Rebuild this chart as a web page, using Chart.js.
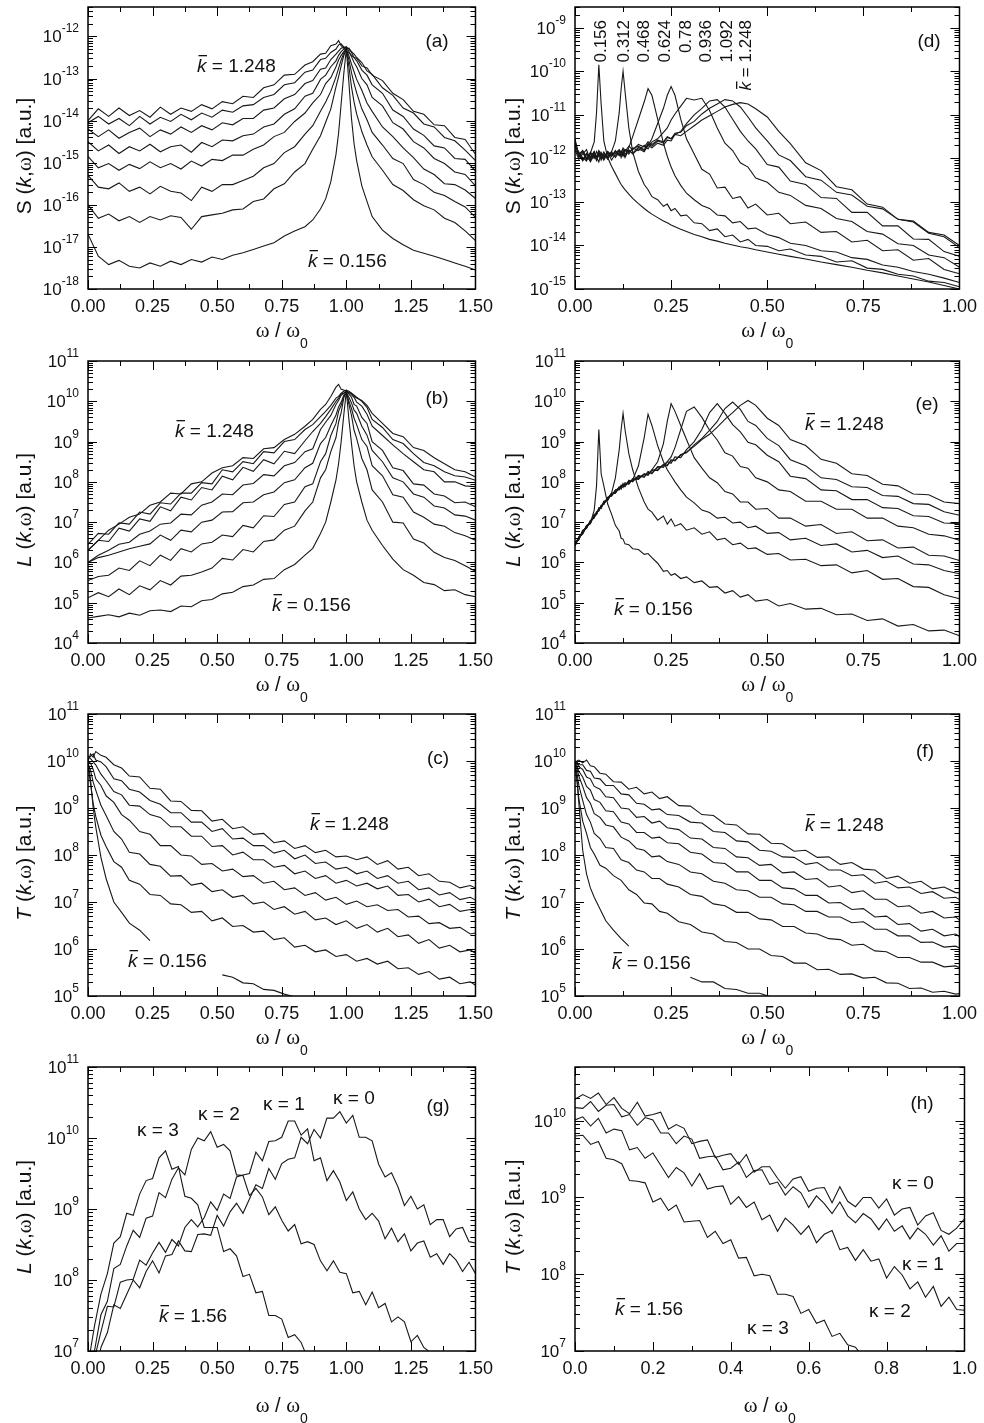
<!DOCTYPE html>
<html>
<head>
<meta charset="utf-8">
<script src="https://cdn.jsdelivr.net/npm/chart.js@4.4.0/dist/chart.umd.min.js"></script>
<style>
  body { margin: 0; background: #fff; }
  #page { position: relative; width: 984px; height: 1423px; background: #fff; overflow: hidden; }
  #page canvas { position: absolute; }
</style>
</head>
<body>
<div id="page"></div>
<script>
// k values (curve labels) and screening parameters
const kBars = ['0.156', '0.312', '0.468', '0.624', '0.78', '0.936', '1.092', '1.248'];
const kappas = ['0', '1', '2', '3'];

// ω/ω0 grids, one per panel group
const xAB = [0,0.04,0.08,0.12,0.16,0.2,0.24,0.28,0.32,0.36,0.4,0.44,0.48,0.52,0.56,0.6,0.64,0.68,0.72,0.76,0.8,0.84,0.87,0.9,0.92,0.94,0.96,0.97,0.98,0.99,1.0,1.01,1.02,1.03,1.04,1.06,1.08,1.1,1.14,1.18,1.22,1.26,1.3,1.34,1.38,1.42,1.46,1.5];
const xC = [0,0.01,0.02,0.03,0.05,0.07,0.1,0.13,0.16,0.2,0.24,0.28,0.32,0.36,0.4,0.44,0.48,0.52,0.56,0.6,0.64,0.68,0.72,0.76,0.8,0.84,0.88,0.92,0.96,1.0,1.04,1.08,1.12,1.16,1.2,1.24,1.28,1.32,1.36,1.4,1.44,1.48,1.5];
const xD = [0,0.01,0.02,0.03,0.04,0.05,0.056,0.062,0.068,0.075,0.085,0.095,0.105,0.115,0.12,0.125,0.13,0.14,0.15,0.165,0.18,0.19,0.2,0.215,0.23,0.24,0.25,0.26,0.275,0.29,0.31,0.33,0.35,0.37,0.39,0.41,0.43,0.45,0.47,0.5,0.53,0.56,0.6,0.64,0.68,0.72,0.76,0.8,0.84,0.88,0.92,0.96,1.0];
const xF = [0,0.005,0.01,0.02,0.03,0.04,0.05,0.065,0.08,0.1,0.12,0.14,0.16,0.18,0.2,0.22,0.24,0.27,0.3,0.33,0.36,0.39,0.42,0.45,0.48,0.51,0.54,0.57,0.6,0.63,0.66,0.69,0.72,0.75,0.78,0.81,0.84,0.87,0.9,0.93,0.96,0.99,1.0];
const xG = [0,0.025,0.05,0.075,0.1,0.125,0.15,0.175,0.2,0.225,0.25,0.275,0.3,0.325,0.35,0.375,0.4,0.425,0.45,0.475,0.5,0.525,0.55,0.575,0.6,0.625,0.65,0.675,0.7,0.725,0.75,0.775,0.8,0.825,0.85,0.875,0.9,0.925,0.95,0.975,1.0,1.025,1.05,1.075,1.1,1.125,1.15,1.175,1.2,1.225,1.25,1.275,1.3,1.325,1.35,1.375,1.4,1.425,1.45,1.475,1.5];
const xH = [0,0.02,0.04,0.06,0.08,0.1,0.12,0.14,0.16,0.18,0.2,0.22,0.24,0.26,0.28,0.3,0.32,0.34,0.36,0.38,0.4,0.42,0.44,0.46,0.48,0.5,0.52,0.54,0.56,0.58,0.6,0.62,0.64,0.66,0.68,0.7,0.72,0.74,0.76,0.78,0.8,0.82,0.84,0.86,0.88,0.9,0.92,0.94,0.96,0.98,1.0];

// (a) log10 S(k,ω), k = 1.248 ... 0.156
const sA1 = [-14.0,-13.72,-13.9,-13.7,-13.88,-13.76,-13.92,-13.68,-13.85,-13.7,-13.78,-13.62,-13.72,-13.55,-13.6,-13.42,-13.45,-13.22,-13.15,-12.92,-12.9,-12.68,-12.6,-12.42,-12.4,-12.22,-12.18,-12.1,-12.22,-12.28,-12.35,-12.38,-12.45,-12.5,-12.52,-12.7,-12.75,-12.92,-13.05,-13.35,-13.5,-13.78,-13.85,-14.1,-14.12,-14.4,-14.45,-14.8];
const sA2 = [-14.05,-13.9,-14.08,-13.95,-14.12,-13.9,-14.08,-13.92,-14.02,-13.85,-13.98,-13.82,-13.92,-13.75,-13.8,-13.65,-13.62,-13.45,-13.38,-13.15,-13.1,-12.85,-12.8,-12.55,-12.52,-12.38,-12.3,-12.2,-12.18,-12.25,-12.3,-12.28,-12.36,-12.42,-12.5,-12.62,-12.82,-12.9,-13.22,-13.4,-13.7,-13.82,-14.08,-14.15,-14.4,-14.48,-14.7,-14.95];
const sA3 = [-14.2,-14.38,-14.22,-14.42,-14.28,-14.18,-14.38,-14.22,-14.32,-14.15,-14.28,-14.12,-14.22,-14.05,-14.1,-13.95,-13.95,-13.75,-13.7,-13.48,-13.38,-13.12,-13.05,-12.78,-12.75,-12.55,-12.42,-12.35,-12.28,-12.26,-12.25,-12.3,-12.38,-12.5,-12.58,-12.8,-12.92,-13.15,-13.35,-13.75,-13.9,-14.2,-14.35,-14.6,-14.65,-14.9,-14.92,-15.2];
const sA4 = [-14.5,-14.72,-14.58,-14.78,-14.62,-14.72,-14.56,-14.74,-14.62,-14.58,-14.75,-14.52,-14.62,-14.46,-14.48,-14.36,-14.32,-14.15,-14.08,-13.85,-13.72,-13.42,-13.35,-13.02,-12.92,-12.72,-12.58,-12.45,-12.36,-12.3,-12.25,-12.36,-12.48,-12.62,-12.72,-13.0,-13.15,-13.45,-13.65,-14.05,-14.2,-14.5,-14.65,-14.9,-15.02,-15.22,-15.28,-15.55];
const sA5 = [-14.85,-15.12,-15.02,-15.18,-15.04,-15.14,-14.98,-15.12,-15.02,-15.15,-14.96,-15.08,-14.92,-14.95,-14.82,-14.82,-14.68,-14.58,-14.38,-14.28,-14.02,-13.82,-13.58,-13.38,-13.12,-12.98,-12.72,-12.56,-12.45,-12.36,-12.3,-12.46,-12.66,-12.84,-13.02,-13.28,-13.58,-13.78,-14.15,-14.38,-14.65,-14.88,-15.15,-15.28,-15.5,-15.52,-15.65,-15.85];
const sA6 = [-15.3,-15.58,-15.62,-15.48,-15.68,-15.58,-15.74,-15.56,-15.68,-15.72,-15.9,-15.58,-15.68,-15.52,-15.52,-15.42,-15.32,-15.12,-15.02,-14.76,-14.62,-14.32,-14.12,-13.78,-13.56,-13.3,-12.96,-12.76,-12.56,-12.4,-12.3,-12.56,-12.86,-13.12,-13.34,-13.72,-13.98,-14.28,-14.58,-14.9,-15.02,-15.4,-15.52,-15.7,-15.78,-15.92,-16.05,-16.3];
const sA7 = [-16.0,-16.32,-16.22,-16.38,-16.28,-16.42,-16.28,-16.36,-16.26,-16.3,-16.58,-16.28,-16.24,-16.2,-16.12,-16.1,-15.92,-15.86,-15.62,-15.5,-15.22,-15.02,-14.68,-14.36,-14.04,-13.72,-13.2,-12.96,-12.7,-12.46,-12.3,-12.72,-13.2,-13.56,-13.84,-14.26,-14.58,-14.86,-15.18,-15.52,-15.66,-15.88,-16.02,-16.12,-16.32,-16.42,-16.62,-16.85];
const sA8 = [-16.7,-17.22,-17.42,-17.32,-17.46,-17.5,-17.38,-17.46,-17.34,-17.42,-17.3,-17.36,-17.24,-17.3,-17.2,-17.14,-17.06,-16.98,-16.9,-16.74,-16.62,-16.52,-16.36,-16.1,-15.86,-15.45,-14.8,-14.3,-13.6,-12.9,-12.3,-13.1,-13.95,-14.55,-14.95,-15.55,-15.92,-16.28,-16.6,-16.8,-16.95,-17.08,-17.15,-17.22,-17.3,-17.38,-17.46,-17.55];

// (b) log10 L(k,ω)
const lB1 = [6.3,6.55,6.8,6.95,7.12,7.2,7.42,7.5,7.72,7.7,7.95,8.0,8.22,8.35,8.4,8.6,8.58,8.82,8.85,9.05,9.18,9.38,9.55,9.8,9.92,10.12,10.35,10.42,10.3,10.28,10.25,10.22,10.2,10.12,10.08,10.02,9.9,9.7,9.45,9.2,9.12,8.85,8.78,8.6,8.45,8.3,8.25,8.12];
const lB2 = [6.45,6.72,6.7,6.98,6.95,7.25,7.2,7.48,7.45,7.72,7.72,7.98,7.95,8.3,8.25,8.5,8.45,8.75,8.72,9.0,9.05,9.3,9.42,9.62,9.75,9.9,10.08,10.12,10.2,10.25,10.28,10.25,10.2,10.15,10.1,10.0,9.85,9.55,9.35,9.05,8.95,8.7,8.48,8.4,8.25,8.15,8.12,8.04];
const lB3 = [6.3,6.55,6.52,6.85,6.78,7.08,7.02,7.38,7.28,7.62,7.55,7.86,7.8,8.14,8.05,8.36,8.26,8.55,8.45,8.76,8.7,9.02,9.25,9.45,9.62,9.8,10.0,10.08,10.18,10.2,10.25,10.22,10.16,10.1,9.98,9.88,9.68,9.38,9.15,8.92,8.7,8.5,8.3,8.25,8.0,8.0,7.9,7.88];
const lB4 = [6.0,6.18,6.3,6.45,6.5,6.7,6.78,6.95,6.98,7.2,7.18,7.42,7.5,7.7,7.68,7.92,7.96,8.18,8.15,8.4,8.48,8.75,8.82,9.3,9.48,9.65,9.92,10.02,10.15,10.2,10.25,10.18,10.1,9.92,9.88,9.6,9.45,9.0,8.78,8.35,8.28,7.95,7.92,7.7,7.65,7.48,7.5,7.38];
const lB5 = [6.0,6.12,6.18,6.26,6.34,6.4,6.46,6.68,6.55,6.8,6.76,7.0,7.05,7.25,7.26,7.48,7.5,7.68,7.75,7.98,8.05,8.35,8.46,8.95,9.1,9.4,9.66,9.86,9.98,10.15,10.22,10.1,9.96,9.78,9.7,9.38,9.16,8.78,8.5,8.1,8.0,7.7,7.62,7.4,7.35,7.18,7.15,7.05];
const lB6 = [5.55,5.65,5.68,5.86,5.8,6.04,5.92,6.18,6.05,6.34,6.26,6.46,6.5,6.68,6.64,6.92,6.86,7.16,7.14,7.44,7.5,7.88,7.95,8.5,8.7,9.15,9.45,9.75,9.9,10.12,10.2,10.0,9.82,9.58,9.42,9.05,8.88,8.4,8.15,7.68,7.62,7.25,7.12,6.95,6.9,6.74,6.66,6.55];
const lB7 = [5.12,5.25,5.15,5.34,5.2,5.42,5.32,5.55,5.44,5.66,5.68,5.76,5.86,6.1,6.06,6.32,6.26,6.52,6.56,6.8,6.9,7.28,7.5,8.1,8.3,8.75,9.1,9.48,9.72,10.08,10.25,9.92,9.65,9.28,9.08,8.58,8.3,7.8,7.5,7.0,6.98,6.58,6.48,6.25,6.12,6.05,5.92,5.78];
const lB8 = [4.62,4.66,4.7,4.65,4.74,4.69,4.8,4.82,4.78,4.92,4.9,5.05,5.08,5.22,5.26,5.4,5.44,5.58,5.6,5.82,5.95,6.18,6.35,6.72,7.0,7.5,8.05,8.45,9.0,9.65,10.25,9.55,8.95,8.4,8.0,7.5,7.05,6.8,6.42,6.08,5.82,5.68,5.5,5.45,5.3,5.32,5.2,5.15];

// (c) log10 T(k,ω)
const tC1 = [10.0,10.15,10.08,10.2,10.12,10.08,9.92,9.85,9.68,9.66,9.42,9.4,9.15,9.14,8.95,8.94,8.72,8.76,8.56,8.6,8.44,8.46,8.26,8.3,8.14,8.2,8.05,8.1,7.96,7.98,7.9,7.96,7.8,7.88,7.7,7.74,7.56,7.6,7.44,7.42,7.3,7.35,7.3];
const tC2 = [10.05,10.1,10.15,10.02,9.98,9.88,9.62,9.58,9.4,9.34,9.16,9.08,8.9,8.9,8.7,8.7,8.5,8.56,8.34,8.36,8.2,8.2,8.04,8.1,7.92,8.0,7.82,7.85,7.7,7.74,7.6,7.66,7.5,7.56,7.4,7.44,7.26,7.3,7.15,7.2,7.05,7.1,7.04];
const tC3 = [10.1,10.05,9.98,9.92,9.72,9.58,9.35,9.28,9.06,9.04,8.86,8.8,8.6,8.6,8.4,8.4,8.18,8.2,8.0,8.06,7.9,7.9,7.74,7.78,7.6,7.66,7.5,7.56,7.4,7.46,7.34,7.4,7.28,7.34,7.14,7.16,7.0,7.06,6.9,6.95,6.8,6.84,6.77];
const tC4 = [10.0,9.95,9.82,9.62,9.48,9.26,9.12,8.86,8.74,8.5,8.44,8.2,8.2,8.0,7.98,7.8,7.82,7.66,7.7,7.54,7.56,7.4,7.44,7.26,7.3,7.14,7.2,7.04,7.1,6.95,7.02,6.9,6.94,6.82,6.84,6.68,6.7,6.54,6.56,6.44,6.46,6.32,6.34];
const tC5 = [9.95,9.8,9.55,9.38,9.06,8.84,8.5,8.34,8.06,8.02,7.8,7.76,7.55,7.56,7.36,7.4,7.22,7.26,7.1,7.14,6.96,7.0,6.84,6.9,6.74,6.8,6.62,6.66,6.52,6.6,6.44,6.52,6.36,6.44,6.26,6.3,6.12,6.2,6.02,6.08,5.94,5.98,5.91];
const tC6 = [9.9,9.5,9.1,8.82,8.42,8.18,7.86,7.74,7.46,7.38,7.16,7.14,6.96,6.94,6.78,6.8,6.6,6.66,6.48,6.5,6.36,6.38,6.2,6.24,6.04,6.08,5.94,5.98,5.84,5.88,5.74,5.8,5.68,5.74,5.58,5.6,5.46,5.52,5.36,5.4,5.26,5.3,5.23];
const tC8 = [10.0,9.6,9.0,8.6,7.95,7.5,7.0,6.78,6.55,6.4,6.18,null,null,null,null,null,null,5.45,5.4,5.28,5.26,5.14,5.12,5.04,4.98,4.9,null,null,null,null,null,null,null,null,null,null,null,null,null,null,null,null,null];

// (d) log10 S(k,ω), k = 0.156 ... 1.248
const sD1 = [-11.55,-11.95,-11.82,-12.02,-11.88,-11.62,-10.95,-9.85,-10.75,-11.6,-11.98,-12.18,-12.35,-12.52,-12.6,-12.66,-12.72,-12.82,-12.92,-13.04,-13.15,-13.22,-13.28,-13.36,-13.44,-13.48,-13.53,-13.57,-13.63,-13.68,-13.75,-13.8,-13.86,-13.9,-13.95,-13.99,-14.03,-14.06,-14.1,-14.15,-14.2,-14.25,-14.31,-14.38,-14.44,-14.5,-14.57,-14.63,-14.7,-14.77,-14.84,-14.92,-15.0];
const sD2 = [-11.75,-11.85,-12.05,-11.9,-12.08,-11.92,-12.05,-11.88,-12.0,-11.9,-12.02,-11.85,-11.6,-10.95,-10.4,-10.0,-10.45,-11.3,-11.85,-12.3,-12.6,-12.72,-12.88,-12.95,-13.1,-13.05,-13.2,-13.15,-13.32,-13.3,-13.48,-13.5,-13.66,-13.62,-13.8,-13.76,-13.92,-13.86,-14.0,-14.02,-14.12,-14.08,-14.22,-14.25,-14.38,-14.35,-14.52,-14.55,-14.66,-14.7,-14.82,-14.85,-14.95];
const sD3 = [-11.8,-12.02,-11.9,-11.8,-12.05,-11.92,-11.98,-12.08,-11.86,-11.98,-11.85,-12.04,-11.9,-11.82,-11.98,-11.88,-11.95,-11.75,-11.5,-11.1,-10.7,-10.4,-10.55,-11.1,-11.65,-11.95,-12.2,-12.4,-12.62,-12.8,-12.95,-13.08,-13.15,-13.3,-13.32,-13.48,-13.45,-13.62,-13.6,-13.75,-13.82,-13.95,-14.0,-14.12,-14.15,-14.28,-14.32,-14.45,-14.5,-14.6,-14.66,-14.75,-14.85];
const sD4 = [-11.7,-11.9,-12.05,-11.88,-11.96,-11.84,-12.02,-11.9,-11.98,-11.85,-12.0,-11.88,-11.95,-11.82,-11.92,-11.85,-11.98,-11.8,-11.9,-11.78,-11.85,-11.7,-11.55,-11.2,-10.85,-10.55,-10.35,-10.55,-11.1,-11.55,-11.9,-12.25,-12.36,-12.68,-12.66,-12.92,-12.88,-13.14,-13.05,-13.3,-13.26,-13.5,-13.46,-13.7,-13.68,-13.92,-13.88,-14.12,-14.1,-14.34,-14.3,-14.55,-14.65];
const sD5 = [-11.65,-11.98,-11.86,-12.04,-11.9,-12.0,-11.84,-11.96,-11.9,-12.02,-11.86,-11.95,-11.82,-11.94,-11.85,-11.92,-11.8,-11.9,-11.76,-11.82,-11.7,-11.78,-11.62,-11.55,-11.4,-11.3,-11.12,-10.98,-10.8,-10.62,-10.66,-10.62,-10.9,-11.3,-11.65,-11.82,-12.1,-12.2,-12.45,-12.55,-12.78,-12.85,-13.08,-13.15,-13.38,-13.45,-13.68,-13.74,-13.96,-14.0,-14.22,-14.28,-14.5];
const sD6 = [-11.8,-11.92,-12.05,-11.9,-12.0,-11.85,-11.98,-11.88,-12.04,-11.9,-11.96,-11.84,-11.98,-11.86,-11.92,-11.8,-11.9,-11.82,-11.88,-11.75,-11.82,-11.7,-11.76,-11.65,-11.7,-11.58,-11.6,-11.45,-11.38,-11.2,-11.0,-10.85,-10.68,-10.65,-10.82,-11.1,-11.38,-11.6,-11.78,-12.14,-12.2,-12.52,-12.6,-12.9,-12.92,-13.24,-13.24,-13.55,-13.55,-13.85,-13.86,-14.14,-14.25];
const sD7 = [-11.7,-11.88,-11.98,-12.06,-11.86,-11.95,-12.0,-11.85,-11.94,-12.04,-11.88,-11.96,-11.84,-11.92,-11.88,-11.95,-11.8,-11.86,-11.78,-11.72,-11.8,-11.66,-11.72,-11.6,-11.65,-11.52,-11.55,-11.42,-11.4,-11.25,-11.15,-10.98,-10.85,-10.75,-10.65,-10.68,-10.82,-11.05,-11.3,-11.6,-11.92,-12.05,-12.42,-12.5,-12.78,-12.84,-13.1,-13.16,-13.4,-13.46,-13.72,-13.8,-14.05];
const sD8 = [-11.6,-11.9,-11.82,-11.98,-12.04,-11.88,-11.96,-11.82,-11.9,-11.98,-11.84,-11.92,-11.88,-11.8,-11.86,-11.76,-11.84,-11.72,-11.8,-11.68,-11.74,-11.62,-11.68,-11.58,-11.62,-11.5,-11.55,-11.45,-11.48,-11.38,-11.25,-11.12,-11.02,-10.92,-10.82,-10.76,-10.72,-10.75,-10.86,-11.05,-11.38,-11.66,-12.1,-12.28,-12.65,-12.72,-13.05,-13.12,-13.4,-13.44,-13.7,-13.76,-14.0];

// (e) log10 L(k,ω), k = 0.156 ... 1.248
const lE1 = [6.42,6.62,6.72,6.92,6.98,7.3,7.9,9.3,8.2,7.9,7.45,7.2,6.92,6.78,6.6,6.58,6.46,6.44,6.34,6.32,6.2,6.22,6.12,5.98,5.78,5.8,5.68,5.72,5.6,5.64,5.5,5.54,5.38,5.4,5.24,5.3,5.14,5.2,5.04,5.08,4.92,4.98,4.84,4.86,4.7,4.72,4.56,4.6,4.42,4.46,4.3,4.32,4.18];
const lE2 = [6.48,6.58,6.78,6.85,7.02,7.12,7.25,7.28,7.4,7.45,7.6,7.72,8.1,8.8,9.3,9.7,9.3,8.7,8.3,7.85,7.5,7.32,7.25,7.05,7.15,6.95,7.08,6.9,6.96,6.8,6.86,6.7,6.76,6.56,6.6,6.44,6.48,6.34,6.36,6.2,6.22,6.06,6.08,5.92,5.94,5.74,5.8,5.58,5.6,5.4,5.38,5.2,5.1];
const lE3 = [6.4,6.62,6.7,6.9,6.96,7.18,7.2,7.32,7.35,7.5,7.55,7.7,7.72,7.86,7.85,7.92,7.9,8.0,8.05,8.4,9.1,9.68,9.4,8.9,8.5,8.3,8.15,8.0,7.8,7.62,7.48,7.3,7.24,7.1,7.12,6.98,7.0,6.86,6.9,6.72,6.74,6.56,6.6,6.42,6.46,6.26,6.3,6.12,6.16,5.96,5.94,5.8,5.72];
const lE4 = [6.45,6.58,6.78,6.86,7.04,7.12,7.24,7.3,7.4,7.46,7.6,7.66,7.78,7.82,7.9,7.88,7.95,7.96,8.06,8.08,8.2,8.18,8.3,8.5,8.95,9.5,9.94,9.75,9.4,9.05,8.6,8.34,8.1,7.98,7.76,7.7,7.5,7.5,7.32,7.34,7.1,7.1,6.9,6.94,6.72,6.76,6.54,6.56,6.36,6.38,6.18,6.16,6.05];
const lE5 = [6.5,6.6,6.74,6.9,7.0,7.16,7.2,7.34,7.36,7.5,7.56,7.7,7.74,7.86,7.84,7.94,7.9,8.02,8.02,8.14,8.12,8.24,8.22,8.36,8.4,8.5,8.62,8.85,9.3,9.75,9.86,9.6,9.28,9.04,8.72,8.64,8.38,8.34,8.1,8.0,7.8,7.76,7.52,7.52,7.32,7.32,7.1,7.1,6.9,6.86,6.7,6.66,6.55];
const lE6 = [6.42,6.64,6.72,6.9,6.98,7.2,7.18,7.36,7.34,7.52,7.54,7.72,7.72,7.88,7.82,7.96,7.88,8.04,8.0,8.16,8.12,8.26,8.2,8.38,8.36,8.5,8.46,8.62,8.6,8.8,9.0,9.3,9.72,9.94,9.7,9.42,9.24,8.98,8.92,8.66,8.5,8.14,8.08,7.8,7.78,7.56,7.56,7.36,7.34,7.16,7.14,6.98,6.96];
const lE7 = [6.48,6.56,6.8,6.84,7.04,7.1,7.26,7.28,7.42,7.44,7.62,7.64,7.8,7.8,7.92,7.86,7.98,7.94,8.08,8.06,8.2,8.16,8.3,8.28,8.44,8.4,8.55,8.52,8.68,8.72,8.92,9.08,9.28,9.5,9.82,9.98,9.8,9.5,9.4,9.08,8.9,8.55,8.4,8.1,8.06,7.88,7.86,7.66,7.64,7.46,7.44,7.26,7.17];
const lE8 = [6.44,6.62,6.74,6.9,6.98,7.18,7.2,7.32,7.4,7.46,7.6,7.66,7.78,7.86,7.86,7.92,7.92,8.0,8.04,8.1,8.18,8.18,8.28,8.3,8.42,8.42,8.52,8.54,8.66,8.74,8.88,9.05,9.18,9.36,9.55,9.72,9.9,10.02,9.9,9.58,9.4,9.05,8.9,8.56,8.46,8.2,8.16,7.94,7.9,7.7,7.68,7.5,7.46];

// (f) log10 T(k,ω)
const tF1 = [9.95,10.0,10.02,9.96,10.02,9.9,9.88,9.74,9.72,9.56,9.55,9.4,9.44,9.3,9.34,9.2,9.24,9.05,9.04,8.86,8.84,8.66,8.64,8.45,8.44,8.25,8.24,8.08,8.1,7.95,7.96,7.8,7.84,7.7,7.68,7.5,7.55,7.4,7.44,7.28,7.32,7.2,7.2];
const tF2 = [10.0,9.98,9.92,9.92,9.8,9.78,9.64,9.62,9.48,9.48,9.3,9.28,9.1,9.08,8.96,8.98,8.86,8.84,8.7,8.68,8.5,8.48,8.3,8.28,8.1,8.08,7.96,7.95,7.8,7.84,7.68,7.68,7.56,7.58,7.4,7.44,7.3,7.32,7.18,7.22,7.08,7.1,7.05];
const tF3 = [10.0,9.95,9.88,9.82,9.66,9.62,9.46,9.4,9.24,9.22,9.0,8.98,8.8,8.82,8.68,8.72,8.58,8.54,8.36,8.34,8.16,8.14,7.96,7.94,7.78,7.8,7.62,7.64,7.48,7.5,7.32,7.35,7.2,7.24,7.06,7.06,6.9,6.92,6.76,6.8,6.66,6.68,6.62];
const tF4 = [9.98,9.9,9.78,9.66,9.46,9.38,9.18,9.12,8.94,8.92,8.7,8.66,8.48,8.48,8.36,8.38,8.26,8.24,8.06,8.02,7.84,7.82,7.64,7.64,7.46,7.46,7.3,7.28,7.14,7.14,6.98,6.99,6.84,6.86,6.68,6.7,6.52,6.54,6.38,6.42,6.28,6.32,6.26];
const tF5 = [9.95,9.85,9.68,9.46,9.22,9.1,8.88,8.8,8.64,8.6,8.38,8.3,8.14,8.1,7.96,7.98,7.86,7.8,7.64,7.6,7.44,7.4,7.26,7.24,7.1,7.1,6.96,6.94,6.8,6.8,6.68,6.68,6.56,6.58,6.42,6.42,6.28,6.28,6.14,6.15,6.04,6.06,6.02];
const tF6 = [9.92,9.75,9.48,9.16,8.86,8.7,8.46,8.35,8.16,8.14,7.9,7.84,7.68,7.64,7.5,7.5,7.38,7.32,7.16,7.12,6.96,6.92,6.78,6.78,6.64,6.62,6.48,6.48,6.34,6.32,6.22,6.2,6.08,6.1,5.96,5.94,5.82,5.82,5.72,5.72,5.62,5.64,5.6];
const tF7 = [9.9,9.6,9.2,8.72,8.46,8.16,8.02,7.78,7.72,7.56,7.46,7.26,7.16,6.98,6.96,6.8,6.76,6.58,6.52,6.36,6.32,6.16,6.14,6.0,6.0,5.86,5.84,5.7,5.7,5.56,5.57,5.46,5.47,5.38,5.4,5.28,5.27,5.16,5.17,5.08,5.1,5.04,5.05];
const tF8 = [9.95,9.6,9.1,8.1,7.6,7.3,7.1,6.85,6.6,6.4,6.22,6.06,null,null,null,null,null,null,5.4,5.3,5.3,5.16,5.14,5.06,5.06,4.98,4.93,null,null,null,null,null,null,null,null,null,null,null,null,null,null,null,null];

// (g) log10 L(k,ω), k = 1.56, κ = 0 ... 3
const lG0 = [6.0,6.55,7.05,7.26,7.65,7.6,7.8,8.0,7.89,8.12,8.27,8.1,8.34,8.36,8.55,8.41,8.4,8.64,8.65,8.63,8.91,8.76,8.96,9.08,8.94,9.14,9.34,9.29,9.57,9.42,9.64,9.7,9.72,10.01,9.92,10.12,10.0,10.28,10.28,10.37,10.21,10.32,10.01,10.01,9.96,9.63,9.45,9.51,9.31,9.05,9.18,9.0,9.06,8.78,8.85,8.85,8.61,8.72,8.74,8.54,8.52];
const lG1 = [6.2,6.89,7.27,7.63,7.62,7.97,8.0,8.01,8.28,8.21,8.38,8.53,8.39,8.57,8.48,8.74,8.85,8.75,8.88,9.1,8.98,9.21,9.15,9.45,9.48,9.5,9.8,9.68,9.95,9.96,10.01,10.24,10.24,10.04,10.13,9.68,9.72,9.4,9.54,9.38,9.12,9.24,9.0,8.85,8.94,8.83,8.58,8.73,8.54,8.65,8.41,8.52,8.55,8.32,8.37,8.22,8.37,8.28,8.12,8.25,8.09];
const lG2 = [6.5,7.0,7.51,7.7,8.16,8.22,8.48,8.7,8.6,8.87,8.9,9.23,9.16,9.42,9.58,9.48,9.84,10.0,9.96,10.09,9.87,9.91,9.82,9.48,9.47,9.19,9.29,9.17,8.92,9.03,8.84,8.69,8.78,8.51,8.54,8.5,8.27,8.13,8.27,8.11,8.09,7.82,7.84,7.65,7.83,7.61,7.67,7.41,7.48,7.41,7.13,7.22,7.05,6.98,6.9,6.85,6.8,6.75,6.7,6.65,6.6];
const lG3 = [6.8,7.35,7.8,8.09,8.52,8.61,8.94,8.91,9.21,9.4,9.43,9.72,9.82,9.56,9.6,9.18,9.15,9.06,8.74,8.74,8.74,8.4,8.44,8.34,8.05,8.08,7.82,7.84,7.5,7.5,7.45,7.19,7.23,7.12,6.9,6.85,6.8,null,null,null,null,null,null,null,null,null,null,null,null,null,null,null,null,null,null,null,null,null,null,null,null];

// (h) log10 T(k,ω), k = 1.56, κ = 0 ... 3
const tH0 = [10.28,10.34,10.29,10.36,10.21,10.3,10.16,10.09,10.24,10.06,10.08,10.11,9.89,9.95,9.9,9.7,9.73,9.75,9.52,9.55,9.57,9.43,9.56,9.33,9.4,9.4,9.25,9.12,9.24,9.27,9.08,9.12,9.13,8.93,9.14,8.95,8.88,9.0,9.0,8.86,8.98,8.77,8.85,8.87,8.64,8.76,8.8,8.57,8.52,8.6,8.72];
const tH1 = [10.17,10.16,10.25,10.12,10.2,10.21,10.05,10.08,9.94,10.04,10.01,9.84,9.84,9.7,9.8,9.76,9.51,9.53,9.54,9.36,9.38,9.46,9.26,9.35,9.36,9.17,9.2,9.03,9.14,9.06,8.87,9.02,8.92,8.79,8.94,8.76,8.67,8.79,8.72,8.58,8.72,8.56,8.63,8.46,8.6,8.52,8.38,8.5,8.3,8.4,8.4];
const tH2 = [10.01,10.05,9.93,10.03,9.84,9.89,9.87,9.62,9.65,9.51,9.58,9.42,9.26,9.39,9.32,9.15,9.31,9.11,9.14,9.15,8.91,9.01,8.87,8.94,8.71,8.77,8.56,8.73,8.64,8.52,8.63,8.41,8.52,8.57,8.32,8.35,8.18,8.32,8.17,8.2,7.95,8.1,7.99,7.81,7.9,7.7,7.84,7.58,7.7,7.54,7.53];
const tH3 = [9.8,9.81,9.69,9.73,9.51,9.49,9.44,9.22,9.21,9.19,8.94,8.99,8.83,8.9,8.68,8.69,8.7,8.48,8.56,8.4,8.45,8.21,8.22,7.98,8.0,7.98,7.74,7.74,7.71,7.49,7.54,7.36,7.4,7.19,7.23,7.08,7.05,6.92,null,null,null,null,null,null,null,null,null,null,null,null,null];

const SANS = '"Liberation Sans", Arial, Helvetica, sans-serif';
const SERIF = '"Liberation Serif", "Times New Roman", serif';
const PAD_TOP = 20;

// column geometry: canvas left/width, plot frame padding, y-title centre
const L = { left: 0, width: 500, padL: 88, padR: 23, yTitleX: 24 };
const R = { left: 492, width: 492, padL: 83, padR: 19, yTitleX: 21 };

const panels = [
  { col: L, top: -13, height: 363, frameBottom: 302, titleDy: 48, xMax: 1.5, xStep: 0.25, xMinor: 0.125, xDec: 2,
    yMin: 1e-18, yMax: 5e-12, yName: 'S', yItalic: false, xs: xAB, series: [sA1, sA2, sA3, sA4, sA5, sA6, sA7, sA8],
    notes: [['txt', '(a)', 437, 47], ['kbar', ' = ' + kBars[7], 197, 72], ['kbar', ' = ' + kBars[0], 308, 267]] },
  { col: R, top: -13, height: 363, frameBottom: 302, titleDy: 48, xMax: 1.0, xStep: 0.25, xMinor: 0.125, xDec: 2,
    yMin: 1e-15, yMax: 3e-9, yName: 'S', yItalic: false, xs: xD, series: [sD1, sD2, sD3, sD4, sD5, sD6, sD7, sD8],
    notes: [['txt', '(d)', 929, 47],
      ['rot', kBars[0], 600, 20], ['rot', kBars[1], 623, 20], ['rot', kBars[2], 643, 20], ['rot', kBars[3], 664, 20],
      ['rot', kBars[4], 685, 20], ['rot', kBars[5], 705, 20], ['rot', kBars[6], 726, 20], ['rotk', ' = ' + kBars[7], 745, 20]] },
  { col: L, top: 341, height: 363, frameBottom: 302, titleDy: 48, xMax: 1.5, xStep: 0.25, xMinor: 0.125, xDec: 2,
    yMin: 1e4, yMax: 1e11, yName: 'L', yItalic: true, xs: xAB, series: [lB1, lB2, lB3, lB4, lB5, lB6, lB7, lB8],
    notes: [['txt', '(b)', 437, 404], ['kbar', ' = ' + kBars[7], 175, 437], ['kbar', ' = ' + kBars[0], 272, 611]] },
  { col: R, top: 341, height: 363, frameBottom: 302, titleDy: 48, xMax: 1.0, xStep: 0.25, xMinor: 0.125, xDec: 2,
    yMin: 1e4, yMax: 1e11, yName: 'L', yItalic: true, xs: xD, series: [lE1, lE2, lE3, lE4, lE5, lE6, lE7, lE8],
    notes: [['txt', '(e)', 927, 410], ['kbar', ' = ' + kBars[7], 805, 430], ['kbar', ' = ' + kBars[0], 614, 615]] },
  { col: L, top: 694, height: 363, frameBottom: 302, titleDy: 48, xMax: 1.5, xStep: 0.25, xMinor: 0.125, xDec: 2,
    yMin: 1e5, yMax: 1e11, yName: 'T', yItalic: true, xs: xC, series: [tC1, tC2, tC3, tC4, tC5, tC6, tC8],
    notes: [['txt', '(c)', 438, 764], ['kbar', ' = ' + kBars[7], 310, 830], ['kbar', ' = ' + kBars[0], 128, 967]] },
  { col: R, top: 694, height: 363, frameBottom: 302, titleDy: 48, xMax: 1.0, xStep: 0.25, xMinor: 0.125, xDec: 2,
    yMin: 1e5, yMax: 1e11, yName: 'T', yItalic: true, xs: xF, series: [tF1, tF2, tF3, tF4, tF5, tF6, tF7, tF8],
    notes: [['txt', '(f)', 925, 757], ['kbar', ' = ' + kBars[7], 805, 831], ['kbar', ' = ' + kBars[0], 612, 969]] },
  { col: L, top: 1047, height: 376, frameBottom: 304, titleDy: 61, xMax: 1.5, xStep: 0.25, xMinor: 0.125, xDec: 2,
    yMin: 1e7, yMax: 1e11, yName: 'L', yItalic: true, xs: xG, series: [lG0, lG1, lG2, lG3],
    notes: [['txt', '(g)', 438, 1112], ['txt', 'κ = ' + kappas[3], 137, 1136, 'left'], ['txt', 'κ = ' + kappas[2], 198, 1120, 'left'],
      ['txt', 'κ = ' + kappas[1], 263, 1110, 'left'], ['txt', 'κ = ' + kappas[0], 333, 1104, 'left'], ['kbar', ' = 1.56', 159, 1322]] },
  { col: R, top: 1047, height: 376, frameBottom: 304, titleDy: 61, xMax: 1.0, xStep: 0.2, xMinor: 0.1, xDec: 1,
    yMin: 1e7, yMax: 5e10, yName: 'T', yItalic: true, xs: xH, series: [tH0, tH1, tH2, tH3],
    notes: [['txt', '(h)', 922, 1109], ['txt', 'κ = ' + kappas[0], 892, 1189, 'left'], ['txt', 'κ = ' + kappas[1], 902, 1270, 'left'],
      ['txt', 'κ = ' + kappas[2], 869, 1317, 'left'], ['txt', 'κ = ' + kappas[3], 747, 1334, 'left'], ['kbar', ' = 1.56', 615, 1315]] },
];

// draw a run of text pieces: [text, font, dy, barHeight]
function drawParts(ctx, parts, x, y, align) {
  let total = 0;
  parts.forEach((p) => { ctx.font = p[1]; total += ctx.measureText(p[0]).width; });
  let cx = align === 'center' ? x - total / 2 : align === 'right' ? x - total : x;
  parts.forEach((p) => {
    ctx.font = p[1];
    const w = ctx.measureText(p[0]).width;
    ctx.fillText(p[0], cx, y + (p[2] || 0));
    if (p[3]) ctx.fillRect(cx + 1.5, y - p[3], w - 1, 1.3);
    cx += w;
  });
}

function makeDecor(p) {
  return {
    id: 'decor',
    afterDraw(chart) {
      const ctx = chart.ctx;
      const a = chart.chartArea;
      const sx = chart.scales.x, sy = chart.scales.y;
      const ox = p.col.left, oy = p.top;
      ctx.save();
      ctx.strokeStyle = '#000';
      ctx.fillStyle = '#111';
      ctx.textAlign = 'left';
      ctx.textBaseline = 'alphabetic';

      // inward ticks on all four sides
      ctx.lineWidth = 1;
      ctx.beginPath();
      const nx = Math.round(p.xMax / p.xMinor);
      for (let i = 0; i <= nx; i++) {
        const px = Math.round(sx.getPixelForValue(i * p.xMinor)) + 0.5;
        const len = i % 2 === 0 ? 9 : 5;
        ctx.moveTo(px, a.bottom); ctx.lineTo(px, a.bottom - len);
        ctx.moveTo(px, a.top); ctx.lineTo(px, a.top + len);
      }
      const e0 = Math.floor(Math.log10(p.yMin) + 1e-9), e1 = Math.ceil(Math.log10(p.yMax) - 1e-9);
      for (let e = e0; e <= e1; e++) {
        for (let m = 1; m <= 9; m++) {
          const v = m * Math.pow(10, e);
          if (v < p.yMin * 0.999 || v > p.yMax * 1.001) continue;
          const py = Math.round(sy.getPixelForValue(v)) + 0.5;
          const len = m === 1 ? 9 : 5;
          ctx.moveTo(a.left, py); ctx.lineTo(a.left + len, py);
          ctx.moveTo(a.right, py); ctx.lineTo(a.right - len, py);
        }
      }
      ctx.stroke();
      ctx.lineWidth = 1.5;
      ctx.strokeRect(a.left, a.top, a.right - a.left, a.bottom - a.top);

      // decade labels 10^n
      for (let e = e0; e <= e1; e++) {
        const v = Math.pow(10, e);
        if (v < p.yMin * 0.999 || v > p.yMax * 1.001) continue;
        const py = sy.getPixelForValue(v);
        drawParts(ctx, [['10', '17px ' + SANS], [String(e), '12px ' + SANS, -10]], a.left - 9, py + 6, 'right');
      }

      // axis titles
      const yf = (p.yItalic ? 'italic ' : '') + '21px ' + SANS;
      ctx.save();
      ctx.translate(p.col.yTitleX, (a.top + a.bottom) / 2 + 8);
      ctx.rotate(-Math.PI / 2);
      drawParts(ctx, [[p.yName, yf], [' (', '21px ' + SANS], ['k', 'italic 21px ' + SANS], [',', '21px ' + SANS],
        ['ω', '21px ' + SERIF], [') [a.u.]', '21px ' + SANS]], 0, 7, 'center');
      ctx.restore();
      drawParts(ctx, [['ω', '21px ' + SERIF], [' / ', '20px ' + SANS], ['ω', '21px ' + SERIF], ['0', '14px ' + SANS, 11]],
        (a.left + a.right) / 2, a.bottom + p.titleDy, 'center');

      // annotations (given in page coordinates)
      p.notes.forEach((n) => {
        const x = n[2] - ox, y = n[3] - oy;
        if (n[0] === 'txt') {
          drawParts(ctx, [[n[1], '19px ' + SANS]], x, y, n[4] || 'center');
        } else if (n[0] === 'kbar') {
          drawParts(ctx, [['k', 'italic 19px ' + SANS, 0, 17], [n[1], '19px ' + SANS]], x, y, 'left');
        } else {
          ctx.save();
          ctx.translate(x, y);
          ctx.rotate(-Math.PI / 2);
          const parts = n[0] === 'rotk'
            ? [['k', 'italic 17px ' + SANS, 0, 15], [n[1], '17px ' + SANS]]
            : [[n[1], '17px ' + SANS]];
          drawParts(ctx, parts, 0, 6, 'right');
          ctx.restore();
        }
      });
      ctx.restore();
    },
  };
}

const page = document.getElementById('page');
panels.forEach((p) => {
  const canvas = document.createElement('canvas');
  canvas.width = p.col.width;
  canvas.height = p.height;
  canvas.style.left = p.col.left + 'px';
  canvas.style.top = p.top + 'px';
  canvas.style.width = p.col.width + 'px';
  canvas.style.height = p.height + 'px';
  page.appendChild(canvas);

  const datasets = p.series.map((s) => ({
    data: p.xs.map((x, i) => ({ x: x, y: s[i] === null ? null : Math.pow(10, s[i]) })),
    borderColor: '#181818',
    borderWidth: 1.1,
    pointRadius: 0,
    tension: 0,
    fill: false,
    spanGaps: false,
  }));

  new Chart(canvas.getContext('2d'), {
    type: 'line',
    data: { datasets: datasets },
    options: {
      responsive: false,
      animation: false,
      devicePixelRatio: 1,
      events: [],
      layout: { padding: { left: p.col.padL, right: p.col.padR, top: PAD_TOP, bottom: 0 } },
      plugins: { legend: { display: false }, tooltip: { enabled: false } },
      scales: {
        x: {
          type: 'linear',
          min: 0,
          max: p.xMax,
          grid: { display: false, drawTicks: false },
          border: { display: false },
          ticks: {
            stepSize: p.xStep,
            autoSkip: false,
            maxRotation: 0,
            padding: 7,
            color: '#111',
            font: { family: SANS, size: 18 },
            callback: (v) => Number(v).toFixed(p.xDec),
          },
          afterFit: (s) => { s.height = p.height - p.frameBottom; },
        },
        y: {
          type: 'logarithmic',
          display: false,
          min: p.yMin,
          max: p.yMax,
        },
      },
    },
    plugins: [makeDecor(p)],
  });
});
</script>
</body>
</html>
